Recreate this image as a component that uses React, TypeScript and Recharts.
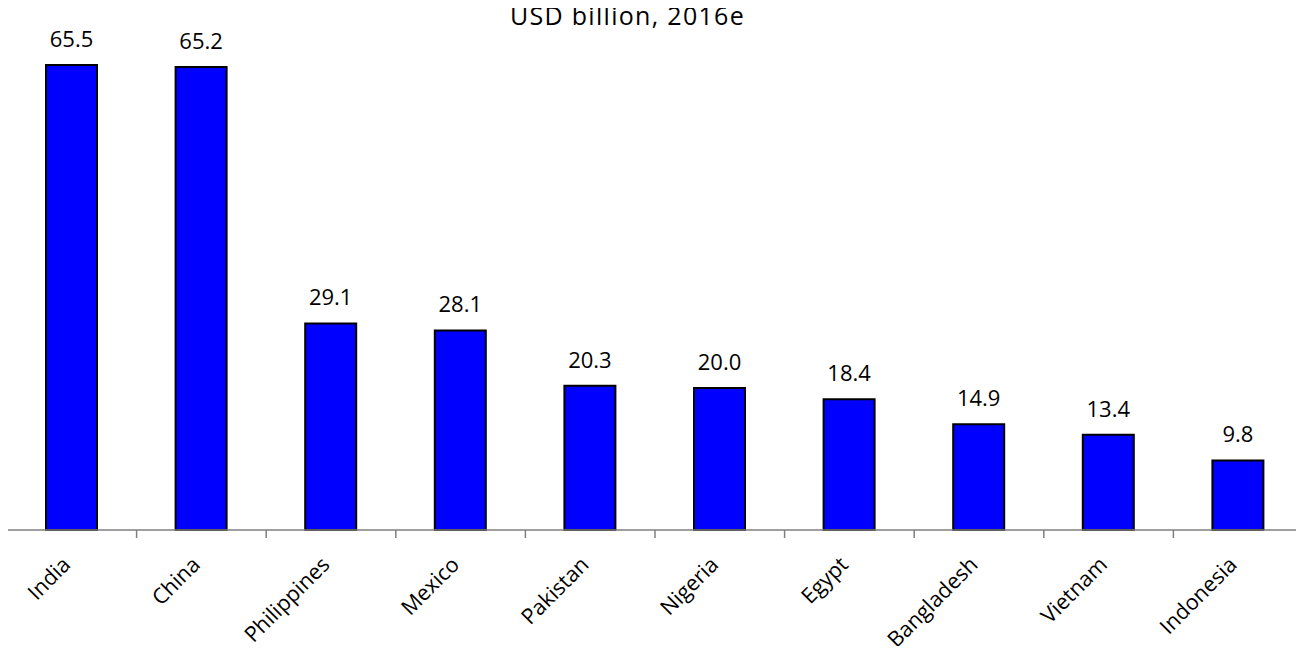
import { Bar, BarChart, LabelList, XAxis, YAxis } from "recharts"

// Values (USD billion, 2016e)
const countries = ["India", "China", "Philippines", "Mexico", "Pakistan", "Nigeria", "Egypt", "Bangladesh", "Vietnam", "Indonesia"]
const remittances = [65.5, 65.2, 29.1, 28.1, 20.3, 20.0, 18.4, 14.9, 13.4, 9.8]
const title = "USD billion, 2016e"

const data = countries.map((name, i) => ({ name, value: remittances[i] }))

const W = 1304
const H = 654
const AXIS_H = 124
const margin = { top: 33, right: 1, left: 7, bottom: 0 }
const band = (W - margin.left - margin.right) / countries.length
const axisY = H - margin.bottom - AXIS_H
const FONT = "'Open Sans', sans-serif"
const AXIS_COLOR = "#7f7f7f"

// category labels at -45deg, plus tick marks on the band edges (Excel style)
const CountryTick = (props: any) => {
  const { x, payload, index } = props
  const left = x - band / 2
  const ax = x
  const ay = axisY + 36
  return (
    <g>
      <line x1={left} y1={axisY} x2={left} y2={axisY + 8} stroke={AXIS_COLOR} strokeWidth={1.5} />
      {index === countries.length - 1 && (
        <line x1={left + band} y1={axisY} x2={left + band} y2={axisY + 8} stroke={AXIS_COLOR} strokeWidth={1.5} />
      )}
      <text
        x={ax}
        y={ay}
        textAnchor="end"
        transform={`rotate(-45, ${ax}, ${ay})`}
        fontSize={21.5}
        fontFamily={FONT}
        fill="#000"
      >
        {payload.value}
      </text>
    </g>
  )
}

export default function App() {
  return (
    <div style={{ position: "relative", width: W, height: H, margin: -8, background: "#fff" }}>
      <div
        style={{
          position: "absolute",
          left: 0,
          top: 3,
          width: 1255,
          textAlign: "center",
          fontFamily: FONT,
          fontSize: 25,
          lineHeight: "25px",
          letterSpacing: 1.3,
          color: "#000",
        }}
      >
        {title}
      </div>
      <BarChart width={W} height={H} data={data} margin={margin}>
        <XAxis
          dataKey="name"
          height={AXIS_H}
          interval={0}
          tickLine={false}
          tickSize={0}
          tickMargin={0}
          axisLine={{ stroke: AXIS_COLOR, strokeWidth: 1.5 }}
          tick={<CountryTick />}
        />
        <YAxis hide domain={[0, 70]} />
        <Bar dataKey="value" fill="#0000FF" stroke="#000" strokeWidth={2} barSize={51} isAnimationActive={false}>
          <LabelList
            dataKey="value"
            position="top"
            offset={18}
            formatter={(v: any) => Number(v).toFixed(1)}
            style={{ fontSize: 22, fontFamily: FONT, fill: "#000" }}
          />
        </Bar>
      </BarChart>
    </div>
  )
}
